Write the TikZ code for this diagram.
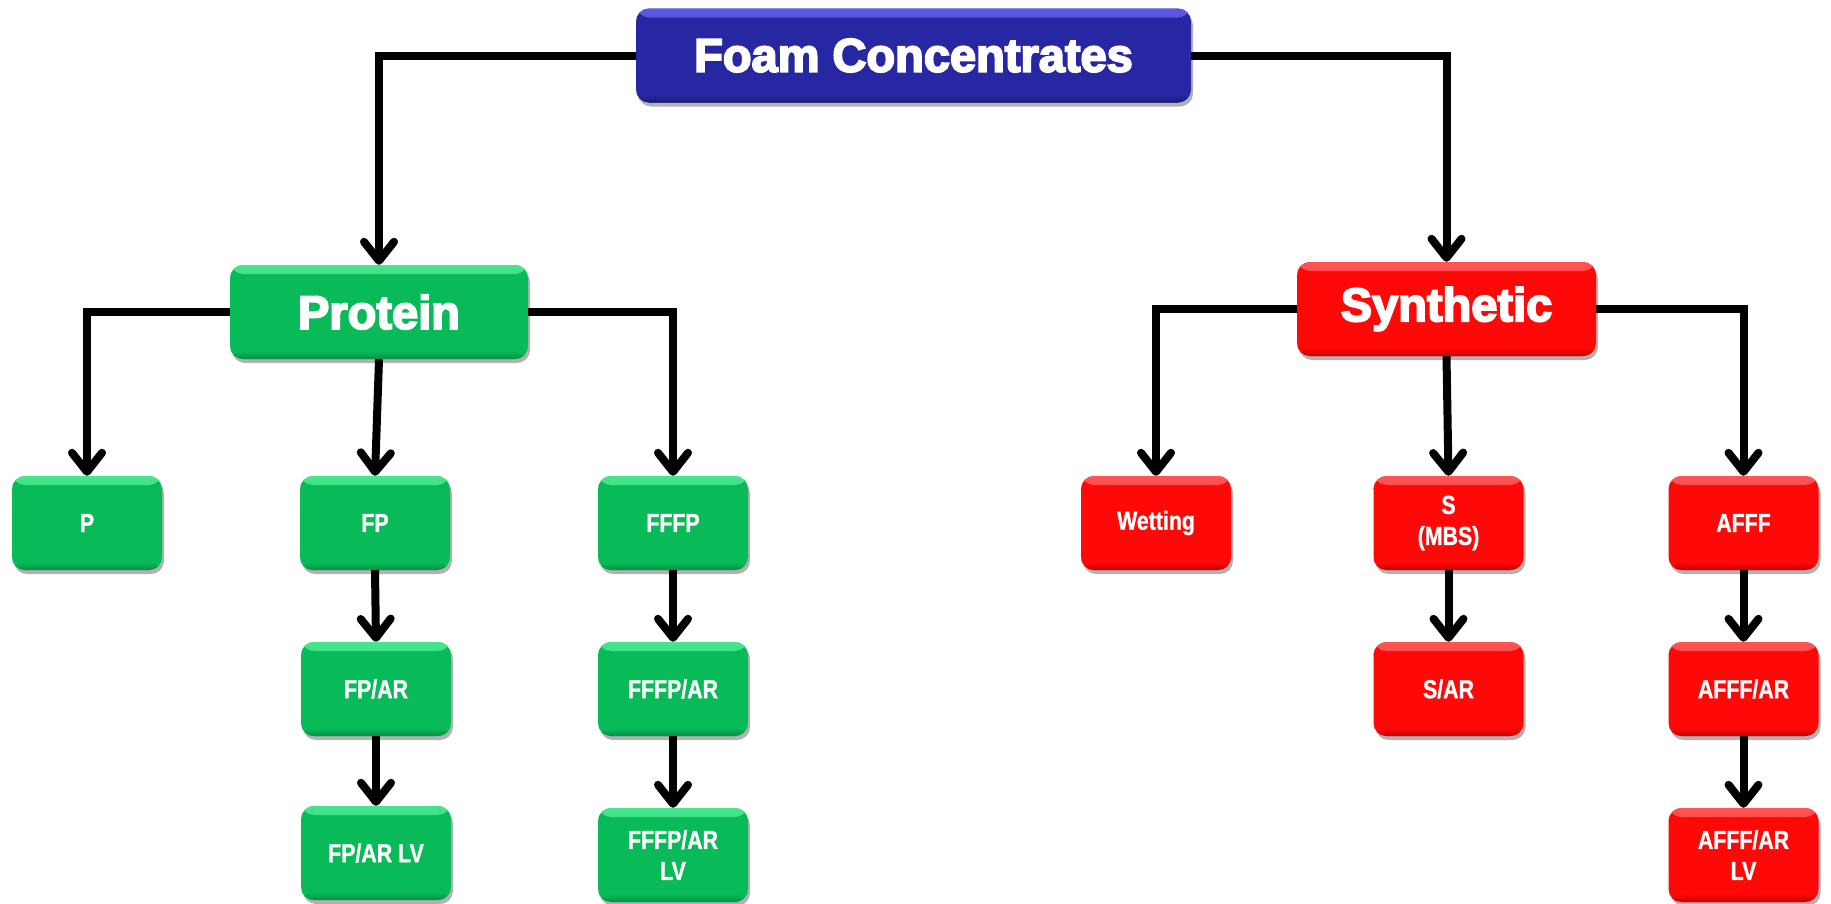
\documentclass[tikz,border=0pt]{standalone}
\usepackage{fontspec}
\setmainfont{Liberation Sans}
\newfontfamily\headfont{Liberation Sans}[UprightFont={* Bold}, FakeBold=4]
\newfontfamily\leaffont{Liberation Sans}[UprightFont={* Bold}, FakeStretch=0.82, FakeBold=1]
\usetikzlibrary{arrows.meta,shadows}

\definecolor{navybase}{HTML}{2727A3}
\definecolor{navylight}{HTML}{5A5AE6}
\definecolor{navydark}{HTML}{1A1A78}
\definecolor{greenbase}{HTML}{08BA58}
\definecolor{greenlight}{HTML}{45E68C}
\definecolor{greendark}{HTML}{059043}
\definecolor{redbase}{HTML}{FE0808}
\definecolor{redlight}{HTML}{FF5555}
\definecolor{reddark}{HTML}{C80000}

\tikzset{
  bevel/.style={
    fill=#1base,
    path picture={
      \shade[top color=#1light, bottom color=#1base]
        (path picture bounding box.north west) rectangle
        ([yshift=-9pt]path picture bounding box.north east);
      \shade[top color=#1base, bottom color=#1dark]
        ([yshift=8pt]path picture bounding box.south west) rectangle
        (path picture bounding box.south east);
    }},
  box/.style={rounded corners=13pt, inner sep=0pt, align=center, text=white,
    drop shadow={shadow xshift=2pt, shadow yshift=-4pt, fill=black, opacity=0.3}},
  headbox/.style={box, bevel=#1, minimum height=94pt,
    font={\headfont\fontsize{47}{50}\selectfont}},
  leafbox/.style={box, bevel=#1, minimum width=150pt, minimum height=94pt,
    font={\leaffont\fontsize{26}{31}\selectfont}},
  conn/.style={line width=8pt, draw=black,
    -{Straight Barb[length=19pt, width=30pt, line width=8pt, round]}},
}

\begin{document}
\begin{tikzpicture}[x=1pt, y=-1pt]
  \fill[white] (0,0) rectangle (1831,903);
  \useasboundingbox (0,0) rectangle (1831,903);

  % top level
  \node[headbox=navy, minimum width=555pt] (title) at (913.5,55.5) {Foam Concentrates};

  % families
  \node[headbox=green, minimum width=298pt] (protein) at (379,312) {Protein};
  \node[headbox=red, minimum width=299pt] (synthetic) at (1446.5,309) {Synthetic};

  % protein branch
  \node[leafbox=green] (p)        at (87,523)  {P};
  \node[leafbox=green] (fp)       at (375,523) {FP};
  \node[leafbox=green] (fffp)     at (673,523) {FFFP};
  \node[leafbox=green] (fpar)     at (376,689) {FP/AR};
  \node[leafbox=green] (fffpar)   at (673,689) {FFFP/AR};
  \node[leafbox=green] (fparlv)   at (376,853) {FP/AR LV};
  \node[leafbox=green] (fffparlv) at (673,855) {FFFP/AR\\LV};

  % synthetic branch
  \node[leafbox=red] (wetting)  at (1156,523)   {Wetting};
  \node[leafbox=red] (s)        at (1448.5,523) {S\\(MBS)};
  \node[leafbox=red] (afff)     at (1743.5,523) {AFFF};
  \node[leafbox=red] (sar)      at (1448.5,689) {S/AR};
  \node[leafbox=red] (afffar)   at (1743.5,689) {AFFF/AR};
  \node[leafbox=red] (afffarlv) at (1743.5,855) {AFFF/AR\\LV};

  % connectors
  \draw[conn] (title.west) -| (protein.north);
  \draw[conn] (title.east) -| (synthetic.north);

  \draw[conn] (protein.west) -| (p.north);
  \draw[conn] (protein.south) -- (fp.north);
  \draw[conn] (protein.east) -| (fffp.north);
  \draw[conn] (fp.south) -- (fpar.north);
  \draw[conn] (fpar.south) -- (fparlv.north);
  \draw[conn] (fffp.south) -- (fffpar.north);
  \draw[conn] (fffpar.south) -- (fffparlv.north);

  \draw[conn] (synthetic.west) -| (wetting.north);
  \draw[conn] (synthetic.south) -- (s.north);
  \draw[conn] (synthetic.east) -| (afff.north);
  \draw[conn] (s.south) -- (sar.north);
  \draw[conn] (afff.south) -- (afffar.north);
  \draw[conn] (afffar.south) -- (afffarlv.north);
\end{tikzpicture}
\end{document}
